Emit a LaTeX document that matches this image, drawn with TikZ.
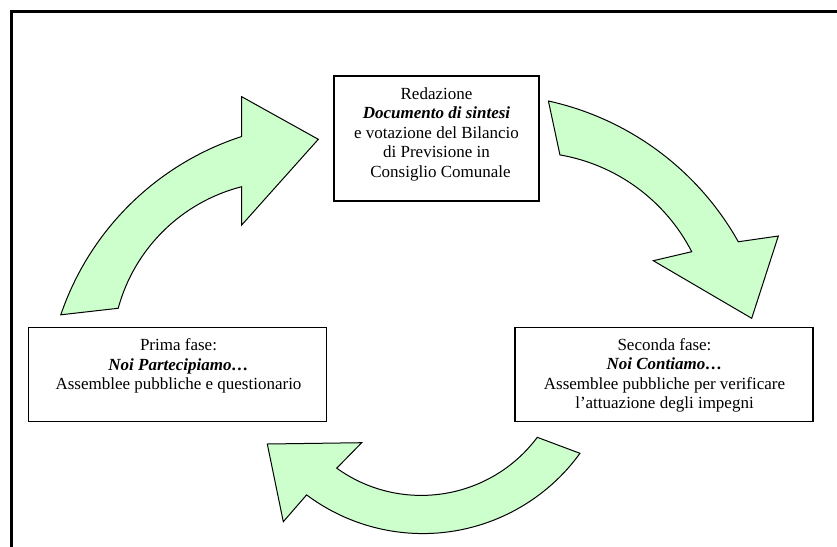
\documentclass[tikz,border=0pt]{standalone}
\usepackage{fontspec}
\setmainfont{Liberation Serif}
\definecolor{arrowgreen}{HTML}{CCFFCC}
\begin{document}
\begin{tikzpicture}[x=1pt,y=-1pt,
  arrowshape/.style={fill=arrowgreen,draw=black,line width=1pt,line join=miter},
  boxstyle/.style={rectangle,draw=black,line width=1.4pt,fill=white,inner sep=0pt},
  txt/.style={align=center,inner sep=0pt,font=\fontsize{17}{19.5}\selectfont},
  framestyle/.style={draw=black,line width=3pt}]
\useasboundingbox (0,0) rectangle (837,546);
\begin{scope}
  \clip (0,0) rectangle (837,546);
  \draw[framestyle] (11.5,600) -- (11.5,11.5) -- (900,11.5);
\end{scope}

% boxes
\node[boxstyle,minimum width=205pt,minimum height=125pt] (topbox) at (436.5,138.5) {};
\node[boxstyle,minimum width=298.5pt,minimum height=94.5pt] (leftbox) at (177.5,374.5) {};
\node[boxstyle,minimum width=298pt,minimum height=94.5pt] (rightbox) at (664,374.5) {};

\node[txt] (toptext) at (436.5,134) {Redazione\\\textbf{\textit{Documento di sintesi}}\\e votazione del Bilancio\hspace*{16pt}\\di Previsione in\hspace*{6pt}\\\hspace*{8pt}Consiglio Comunale};
\node[txt] (lefttext) at (178.5,366) {Prima fase:\\\textbf{\textit{Noi Partecipiamo…}}\\Assemblee pubbliche e questionario};
\node[txt] (righttext) at (664.5,375.5) {Seconda fase:\\\textbf{\textit{Noi Contiamo…}}\\Assemblee pubbliche per verificare\\l’attuazione degli impegni};

% curved arrows
\draw[arrowshape] (60.8,314.8) arc[start angle=198.8,end angle=252,radius=283.5]
  -- (241.7,96.7) -- (318.3,139.3) -- (241.7,225) -- (241.7,186.7)
  arc[start angle=255.7,end angle=195.2,radius=172] -- cycle;
\draw[arrowshape] (548.4,101) arc[start angle=-77.6,end angle=-29.3,radius=288.9]
  -- (778.3,236) -- (751.7,318.3) -- (653.3,260.7) -- (691.7,251.7)
  arc[start angle=-27.2,end angle=-80.2,radius=183.2] -- cycle;
\draw[arrowshape] (537.3,437.3) arc[start angle=36.8,end angle=125.7,radius=144.9]
  -- (361.7,442.7) -- (267.3,444) -- (283.3,521.7) -- (306.6,494.9)
  arc[start angle=126.8,end angle=35.9,radius=194] -- cycle;
\end{tikzpicture}
\end{document}
